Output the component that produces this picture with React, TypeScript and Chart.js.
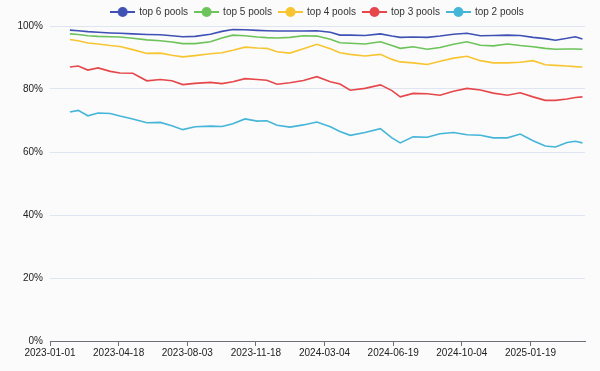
import React, { useEffect, useRef } from "react";
import { Chart, registerables } from "chart.js";

Chart.register(...registerables);

// Day offsets from 2023-01-01 of each sample
const days = [31, 44, 59, 75, 94, 109, 129, 151, 172, 190, 207, 226, 250, 268, 285, 304, 323, 338, 354, 374, 395, 416, 437, 452, 468, 491, 515, 533, 546, 566, 588, 608, 629, 650, 671, 691, 713, 733, 753, 772, 788, 806, 819, 830];

const top6 = [98.7, 98.5, 98.2, 98.0, 97.8, 97.7, 97.5, 97.3, 97.2, 96.9, 96.6, 96.7, 97.4, 98.3, 98.9, 98.8, 98.6, 98.5, 98.4, 98.4, 98.4, 98.5, 98.0, 97.1, 97.1, 97.0, 97.5, 96.8, 96.4, 96.5, 96.4, 96.8, 97.4, 97.7, 96.9, 97.0, 97.1, 97.0, 96.4, 96.0, 95.5, 96.1, 96.6, 95.9];
const top5 = [97.5, 97.3, 96.9, 96.7, 96.6, 96.5, 96.1, 95.6, 95.3, 94.9, 94.4, 94.4, 95.0, 96.2, 97.1, 96.9, 96.5, 96.3, 96.2, 96.4, 96.9, 96.8, 95.8, 94.7, 94.5, 94.3, 95.0, 93.8, 92.9, 93.4, 92.6, 93.2, 94.2, 95.0, 93.9, 93.7, 94.3, 93.8, 93.4, 92.9, 92.6, 92.7, 92.7, 92.6];
const top4 = [95.7, 95.3, 94.6, 94.3, 93.8, 93.5, 92.5, 91.3, 91.4, 90.7, 90.2, 90.6, 91.2, 91.5, 92.3, 93.3, 93.0, 92.9, 91.8, 91.4, 92.8, 94.2, 92.8, 91.5, 91.0, 90.5, 91.0, 89.4, 88.6, 88.3, 87.8, 88.8, 89.8, 90.4, 89.0, 88.3, 88.3, 88.5, 89.0, 87.7, 87.5, 87.3, 87.1, 87.0];
const top3 = [87.0, 87.3, 86.0, 86.7, 85.6, 85.1, 85.0, 82.6, 83.0, 82.6, 81.4, 81.8, 82.1, 81.7, 82.3, 83.3, 83.0, 82.8, 81.5, 82.0, 82.7, 83.9, 82.3, 81.6, 79.6, 80.2, 81.3, 79.5, 77.5, 78.6, 78.5, 78.0, 79.3, 80.2, 79.7, 78.7, 78.0, 78.8, 77.5, 76.4, 76.4, 76.8, 77.3, 77.5];
const top2 = [72.7, 73.2, 71.5, 72.4, 72.2, 71.4, 70.5, 69.3, 69.4, 68.3, 67.1, 68.0, 68.2, 68.1, 69.0, 70.5, 69.8, 69.9, 68.5, 67.9, 68.6, 69.5, 68.0, 66.5, 65.3, 66.2, 67.4, 64.5, 62.9, 64.8, 64.7, 65.8, 66.2, 65.5, 65.3, 64.5, 64.5, 65.7, 63.6, 61.9, 61.6, 63.0, 63.4, 62.9];

const seriesNames = ["top 6 pools", "top 5 pools", "top 4 pools", "top 3 pools", "top 2 pools"];
const seriesColors = ["#3f51b5", "#6cc35a", "#f7c531", "#e6474a", "#45b5d8"];

const xTickDays = [0, 107, 214, 321, 428, 535, 642, 749];
const xTickLabels = ["2023-01-01", "2023-04-18", "2023-08-03", "2023-11-18", "2024-03-04", "2024-06-19", "2024-10-04", "2025-01-19"];
const xMax = 834;

const FONT = "'Liberation Sans', Arial, Helvetica, sans-serif";

function makeIcon(color: string) {
  const c = document.createElement("canvas");
  c.width = 25;
  c.height = 14;
  const ctx = c.getContext("2d")!;
  ctx.strokeStyle = color;
  ctx.lineWidth = 2;
  ctx.beginPath();
  ctx.moveTo(0, 7);
  ctx.lineTo(25, 7);
  ctx.stroke();
  ctx.fillStyle = color;
  ctx.beginPath();
  ctx.arc(12.5, 7, 5, 0, Math.PI * 2);
  ctx.fill();
  return c;
}

export default function App() {
  const ref = useRef<HTMLCanvasElement | null>(null);

  useEffect(() => {
    document.body.style.margin = "0";
    document.body.style.background = "#fbfbfb";
    const all = [top6, top5, top4, top3, top2];
    const icons = seriesColors.map(makeIcon);
    const datasets = all.map((vals, i) => ({
      label: seriesNames[i],
      data: vals.map((v, j) => ({ x: days[j], y: v })),
      borderColor: seriesColors[i],
      backgroundColor: seriesColors[i],
      borderWidth: 1.6,
      pointRadius: 0,
      tension: 0,
    }));

    const legendHeight = {
      id: "legendHeight",
      beforeInit(chart: any) {
        const orig = chart.legend.fit;
        chart.legend.fit = function () {
          orig.bind(chart.legend)();
          this.height = 26;
        };
      },
    };
    const bg = {
      id: "bg",
      beforeDraw(chart: any) {
        const ctx = chart.ctx;
        ctx.save();
        ctx.fillStyle = "#fbfbfb";
        ctx.fillRect(0, 0, chart.width, chart.height);
        ctx.restore();
      },
    };

    const chart = new Chart(ref.current!, {
      type: "line",
      data: { datasets },
      plugins: [legendHeight, bg],
      options: {
        animation: false,
        responsive: false,
        devicePixelRatio: 1,
        layout: { padding: { left: 0, right: 15, top: 0, bottom: 0 } },
        plugins: {
          tooltip: { enabled: false },
          legend: {
            position: "top",
            fullSize: false,
            labels: {
              usePointStyle: true,
              pointStyleWidth: 23,
              boxHeight: 10,
              padding: 7,
              color: "#333",
              font: { family: FONT, size: 10 },
              generateLabels(chart: any) {
                return chart.data.datasets.map((d: any, i: number) => ({
                  text: d.label,
                  fillStyle: d.borderColor,
                  strokeStyle: d.borderColor,
                  lineWidth: 0,
                  pointStyle: icons[i],
                  hidden: false,
                  datasetIndex: i,
                  fontColor: "#333",
                }));
              },
            },
          },
        },
        scales: {
          x: {
            type: "linear",
            min: 0,
            max: xMax,
            afterBuildTicks(scale: any) {
              scale.ticks = xTickDays.map((v) => ({ value: v }));
            },
            afterFit(scale: any) {
              scale.height = 30;
            },
            ticks: {
              autoSkip: false,
              maxRotation: 0,
              padding: 1,
              color: "#222",
              font: { family: FONT, size: 10 },
              callback(v: any) {
                const idx = xTickDays.indexOf(Number(v));
                return idx >= 0 ? xTickLabels[idx] : "";
              },
            },
            grid: {
              drawOnChartArea: false,
              drawTicks: true,
              tickLength: 5,
              tickColor: "#6E7079",
            },
            border: { display: true, color: "#6E7079", width: 1 },
          },
          y: {
            min: 0,
            max: 100,
            afterFit(scale: any) {
              scale.width = 50;
            },
            ticks: {
              stepSize: 20,
              padding: 7,
              color: "#222",
              font: { family: FONT, size: 10 },
              callback(v: any) {
                return v + "%";
              },
            },
            grid: { color: "#E0E6F1", drawTicks: false, lineWidth: 1 },
            border: { display: false },
          },
        },
      },
    });
    return () => chart.destroy();
  }, []);

  return (
    <div style={{ width: 600, height: 371, background: "#fbfbfb" }}>
      <canvas ref={ref} width={600} height={371} style={{ display: "block" }} />
    </div>
  );
}
